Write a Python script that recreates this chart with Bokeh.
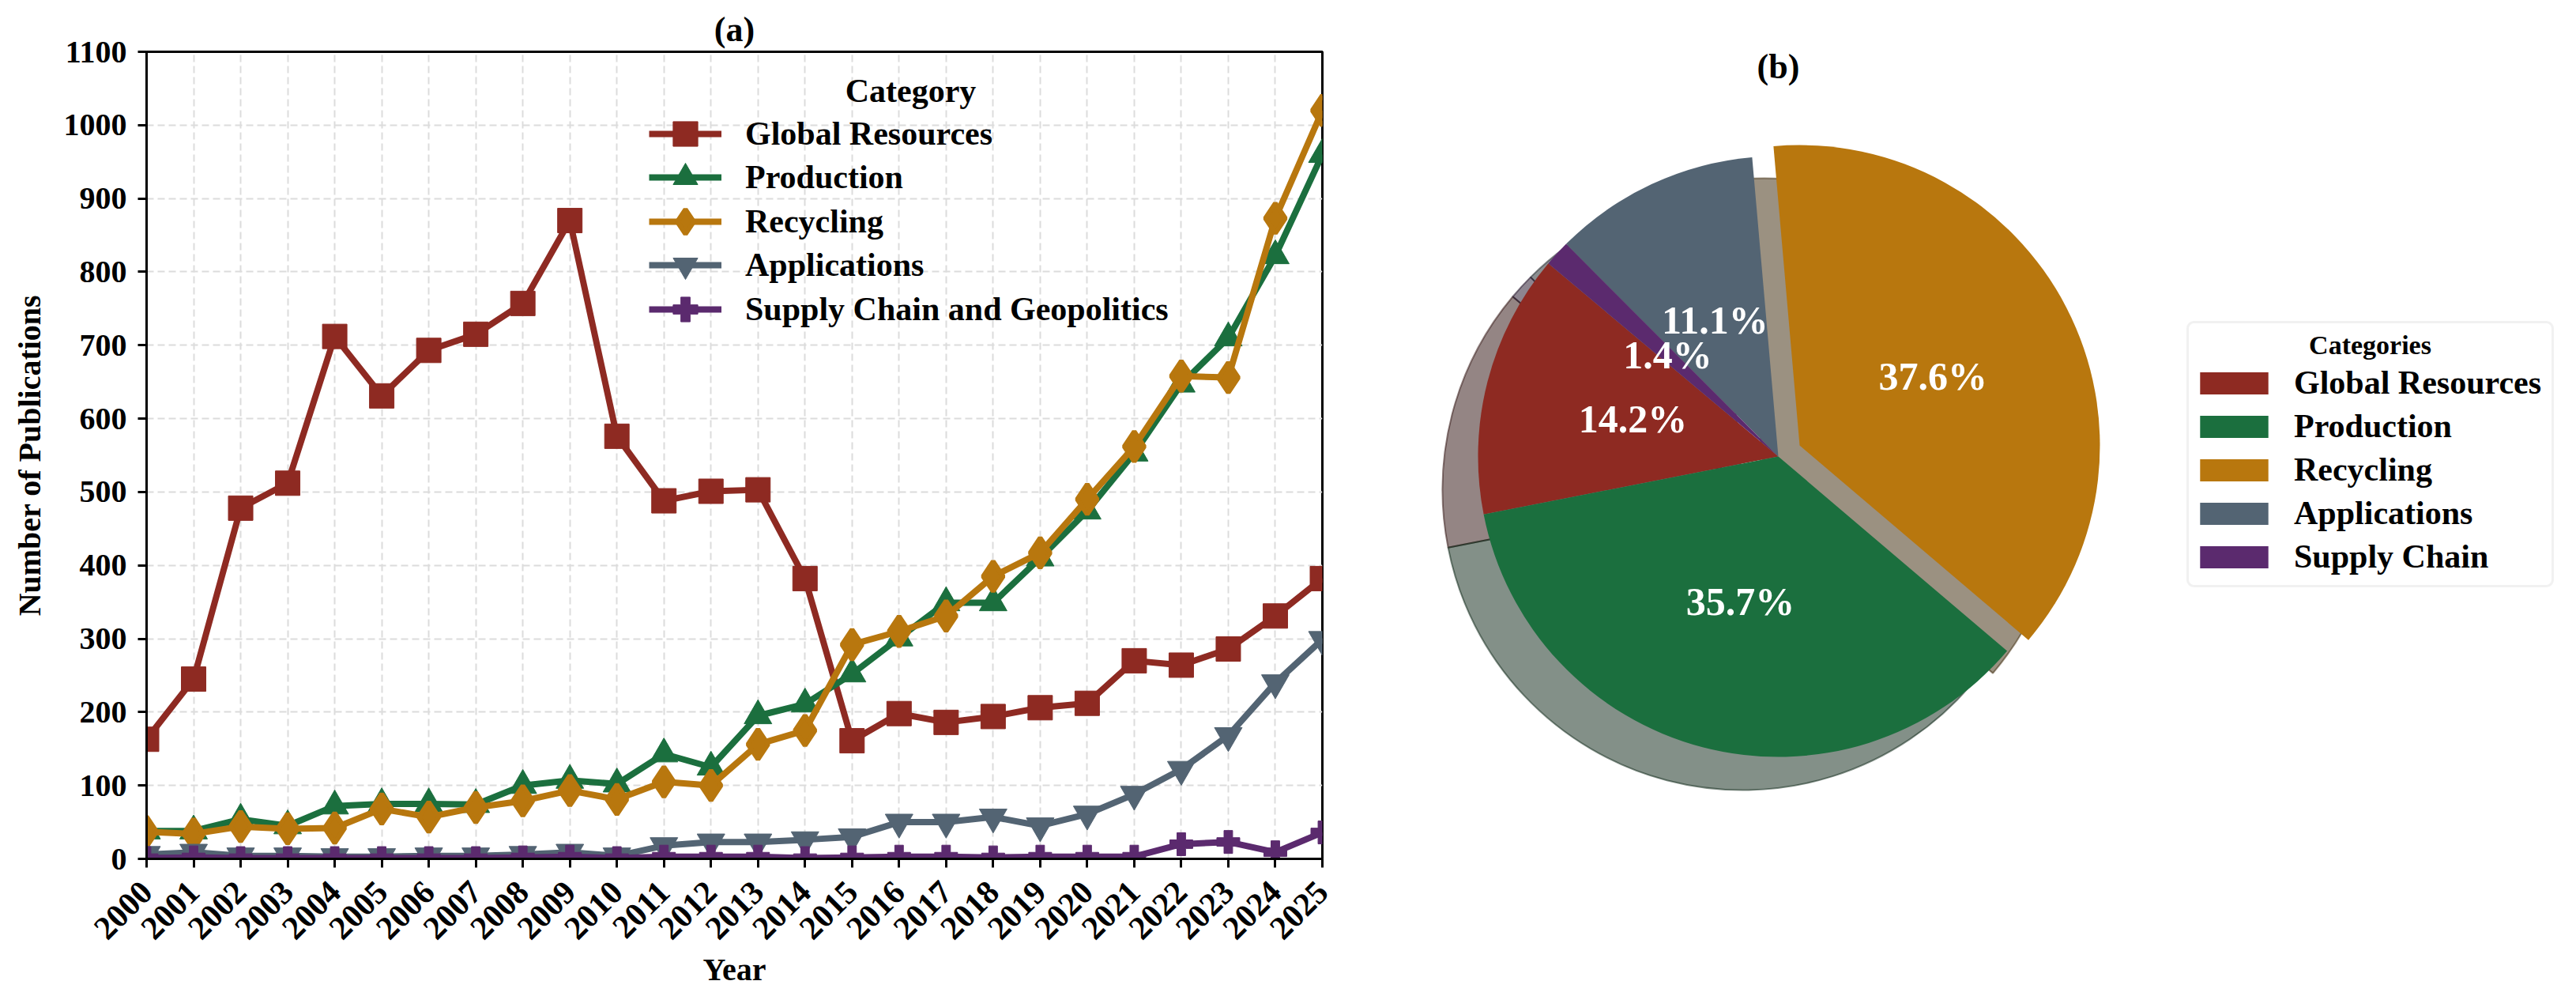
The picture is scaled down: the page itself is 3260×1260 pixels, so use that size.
import math

from bokeh.core.properties import value
from bokeh.embed import file_html
from bokeh.layouts import row
from bokeh.models import (BoxAnnotation, ColumnDataSource, FixedTicker, Label,
                          Legend, LegendItem, Range1d)
from bokeh.plotting import figure
from bokeh.resources import INLINE

# ---------------------------------------------------------------- data
years = list(range(2000, 2026))
year_ticks = list(range(2000, 2026))
count_ticks = list(range(0, 1101, 100))

global_resources = [163, 245, 478, 512, 712, 631, 693, 715, 757, 870, 576, 488, 501,
                    503, 382, 161, 198, 186, 194, 206, 212, 270, 264, 286, 331, 382]
production = [38, 38, 54, 45, 72, 75, 75, 74, 100, 107, 102, 143, 125,
              195, 211, 252, 301, 349, 349, 410, 474, 553, 647, 710, 822, 960]
recycling = [37, 34, 44, 41, 42, 68, 57, 70, 79, 93, 81, 105, 100,
             156, 175, 292, 310, 331, 385, 417, 490, 562, 658, 656, 873, 1020]
applications = [6, 9, 4, 4, 3, 3, 4, 4, 6, 9, 4, 18, 23,
                23, 26, 30, 50, 50, 57, 45, 61, 88, 122, 168, 240, 299]
supply_chain = [1, 2, 1, 1, 1, 1, 1, 1, 2, 3, 1, 3, 3,
                3, 1, 2, 3, 3, 2, 3, 3, 3, 20, 23, 9, 36]

line_categories = ["Global Resources", "Production", "Recycling", "Applications",
                   "Supply Chain and Geopolitics"]

pie_categories = ["Global Resources", "Production", "Recycling", "Applications",
                  "Supply Chain"]
pie_shares = [14.2, 35.7, 37.6, 11.1, 1.4]

# ---------------------------------------------------------------- style
SERIF = "Liberation Serif"
palette = ["#8E2A22", "#1B6F3E", "#B8770E", "#536473", "#5B2A6E"]
# (marker, size, outline width)
markers = [("square", 31, 1), ("triangle", 35, 1), ("diamond", 38, 6),
           ("inverted_triangle", 35, 1), ("plus", 29, 1)]

W_LEFT, W_RIGHT, H = 1720, 1540, 1260
B_TOP, B_BOTTOM = 65, 174

# ---------------------------------------------------------------- (a) line chart
p = figure(width=W_LEFT, height=H, x_range=Range1d(2000, 2025), y_range=Range1d(0, 1100),
           min_border_left=185, min_border_right=47, min_border_top=B_TOP,
           min_border_bottom=B_BOTTOM, toolbar_location=None, output_backend="svg",
           title="(a)")

p.title.align = "center"
p.title.text_font = SERIF
p.title.text_font_size = "44px"
p.title.text_font_style = "bold"
p.title.text_color = "black"
p.title.standoff = 8

p.outline_line_color = "black"
p.outline_line_width = 3

xa = p.xaxis[0]
ya = p.yaxis[0]
for ax in (xa, ya):
    ax.axis_line_width = 3
    ax.axis_line_color = "black"
    ax.major_tick_line_width = 3
    ax.major_tick_line_color = "black"
    ax.major_tick_in = 0
    ax.major_tick_out = 11
    ax.minor_tick_line_color = None
    ax.major_label_text_font = SERIF
    ax.major_label_text_font_style = "bold"
    ax.major_label_text_color = "black"
    ax.axis_label_text_font = SERIF
    ax.axis_label_text_font_style = "bold"
    ax.axis_label_text_font_size = "40px"
    ax.axis_label_text_color = "black"

ya.ticker = FixedTicker(ticks=count_ticks)
ya.major_label_text_font_size = "40px"
ya.major_label_standoff = 14
ya.axis_label = "Number of Publications"
ya.axis_label_standoff = 18

xa.ticker = FixedTicker(ticks=year_ticks)
xa.major_label_orientation = math.pi / 4
xa.major_label_text_font_size = "42px"
xa.major_label_standoff = 24
xa.axis_label = "Year"
xa.axis_label_standoff = 0

p.xgrid.ticker = FixedTicker(ticks=year_ticks)
p.ygrid.ticker = FixedTicker(ticks=count_ticks)
for g in (p.xgrid, p.ygrid):
    g.grid_line_color = "#dcdcdc"
    g.grid_line_width = 2
    g.grid_line_dash = "9 5"

series = [global_resources, production, recycling, applications, supply_chain]
line_items = []
for name, vals, color, (mk, size, lw) in zip(line_categories, series, palette, markers):
    src = ColumnDataSource(dict(year=years, count=vals))
    ln = p.line("year", "count", source=src, line_color=color, line_width=8)
    sc = p.scatter("year", "count", source=src, marker=mk, size=size,
                   fill_color=color, line_color=color, line_width=lw)
    line_items.append(LegendItem(label=name, renderers=[ln, sc]))

# Two interleaved legends: the marker box (which sets the legend marker size)
# is taller than the row pitch, so alternate rows go into separate legends.
legend_style = dict(padding=0, margin=0, spacing=33, glyph_width=92, glyph_height=78,
                    label_standoff=30, label_text_font=SERIF, label_text_font_style="bold",
                    label_text_font_size="42px", label_text_color="black",
                    border_line_alpha=0, background_fill_alpha=0)
p.add_layout(Legend(items=line_items[0::2], location=(636, 656), **legend_style))
p.add_layout(Legend(items=line_items[1::2], location=(636, 712), **legend_style))
p.add_layout(Label(x=967, y=972, x_units="screen", y_units="screen", text="Category",
                   text_align="center", text_baseline="middle", text_font=SERIF,
                   text_font_style="bold", text_font_size="42px", text_color="black"))

# ---------------------------------------------------------------- (b) pie chart
# y data units are pixels measured up from the bottom of the canvas
q = figure(width=W_RIGHT, height=H, x_range=Range1d(0, W_RIGHT),
           y_range=Range1d(B_BOTTOM, H - B_TOP), min_border_left=0, min_border_right=0,
           min_border_top=B_TOP, min_border_bottom=B_BOTTOM,
           toolbar_location=None, output_backend="svg")
q.axis.visible = False
q.grid.visible = False
q.outline_line_color = None

cx, cy, radius = 530, 683, 380
start_deg = 140.0
explode = [0, 0, 0.08, 0, 0]
shadow_dx, shadow_dy = -45, -42

total = sum(pie_shares)
starts, ends, xs, ys, lx, ly = [], [], [], [], [], []
acc = start_deg
for share, ex in zip(pie_shares, explode):
    a0 = acc
    a1 = acc + 360.0 * share / total
    acc = a1
    mid = math.radians((a0 + a1) / 2)
    ox = cx + ex * radius * math.cos(mid)
    oy = cy + ex * radius * math.sin(mid)
    starts.append(math.radians(a0))
    ends.append(math.radians(a1))
    xs.append(ox)
    ys.append(oy)
    lx.append(ox + 0.5 * radius * math.cos(mid))
    ly.append(oy + 0.5 * radius * math.sin(mid))


def darken(hex_color, k=0.3):
    r, g, b = (int(hex_color[i:i + 2], 16) for i in (1, 3, 5))
    return "#%02x%02x%02x" % (int(r * k), int(g * k), int(b * k))


shadow_src = ColumnDataSource(dict(
    x=[x + shadow_dx for x in xs], y=[y + shadow_dy for y in ys],
    start=starts, end=ends, color=[darken(c) for c in palette]))
q.wedge(x="x", y="y", radius=radius, start_angle="start", end_angle="end",
        direction="anticlock", source=shadow_src, fill_color="color", fill_alpha=0.5,
        line_color="color", line_alpha=0.5, line_width=2)

pie_src = ColumnDataSource(dict(x=xs, y=ys, start=starts, end=ends, color=palette,
                                category=pie_categories))
wedges = q.wedge(x="x", y="y", radius=radius, start_angle="start", end_angle="end",
                 direction="anticlock", source=pie_src, fill_color="color", line_color=None)

label_src = ColumnDataSource(dict(x=lx, y=ly, text=["%.1f%%" % s for s in pie_shares]))
q.text(x="x", y="y", text="text", source=label_src, text_align="center",
       text_baseline="middle", text_color="white", text_font=value(SERIF),
       text_font_style="bold", text_font_size="50px")

q.add_layout(Label(x=cx, y=1176, text="(b)", text_align="center", text_baseline="middle",
                   text_font=SERIF, text_font_style="bold", text_font_size="44px",
                   text_color="black"))

q.add_layout(BoxAnnotation(left=1048, right=1510, bottom=519, top=853,
                           fill_color="white", fill_alpha=1.0, line_color="#d0d0d0",
                           line_width=3, border_radius=8))
q.add_layout(Label(x=1279, y=824, text="Categories", text_align="center",
                   text_baseline="middle", text_font=SERIF, text_font_style="bold",
                   text_font_size="34px", text_color="black"))

pie_items = [LegendItem(label=name, renderers=[wedges], index=i)
             for i, name in enumerate(pie_categories)]
legend_b = Legend(items=pie_items, location=(1053, 358), padding=0, margin=0,
                  spacing=7, glyph_width=108, glyph_height=35, label_standoff=22,
                  label_text_font=SERIF, label_text_font_style="bold",
                  label_text_font_size="42px", label_text_color="black",
                  border_line_alpha=0, background_fill_alpha=0)
q.add_layout(legend_b)

layout = row(p, q)
with open("out.html", "w") as fh:
    fh.write(file_html(layout, INLINE))
